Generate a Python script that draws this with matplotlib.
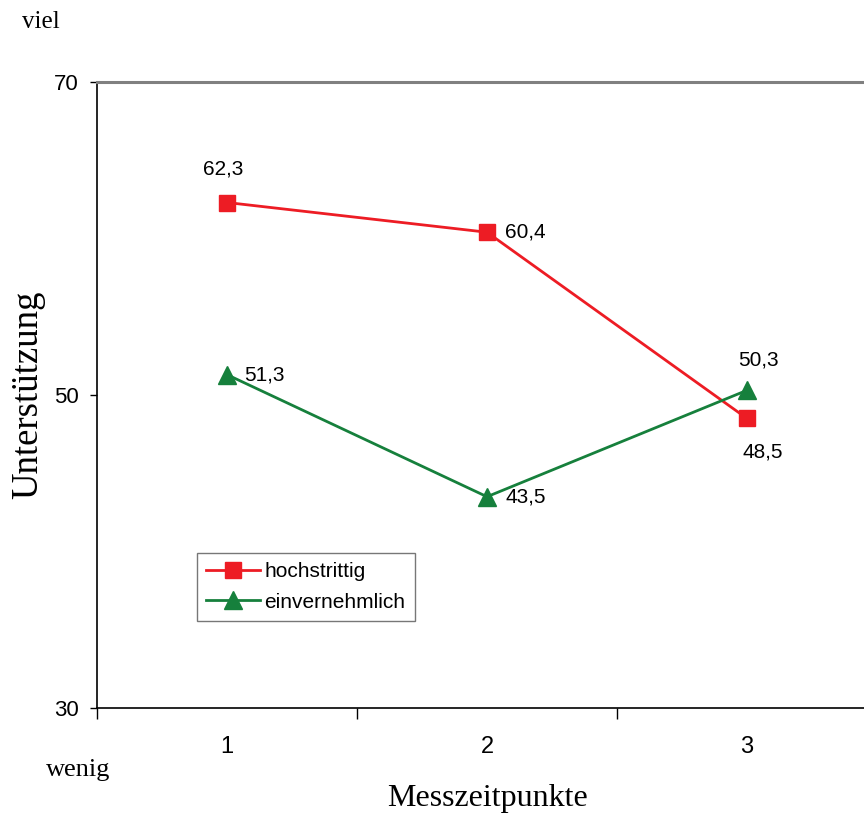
import numpy as np
import matplotlib
matplotlib.use('Agg')
import matplotlib.pyplot as plt
from matplotlib.ticker import FixedLocator

zeitpunkte = [1, 2, 3]
labels = ['1', '2', '3']
hochstrittig = [62.3, 60.4, 48.5]
einvernehmlich = [51.3, 43.5, 50.3]

red = '#ED1C24'
green = '#16803C'
sans = 'Liberation Sans'
serif = 'Liberation Serif'

fig = plt.figure(figsize=(8.64, 8.13), dpi=100)
W, H = 864., 813.
# axes from x=97 to 877 (runs past the right edge), y=82..708
ax = fig.add_axes([97/W, (H-708)/H, 780/W, 626/H])

ax.plot(zeitpunkte, hochstrittig, color=red, lw=2, marker='s', ms=11,
        mec=red, mfc=red, label='hochstrittig', clip_on=False)
ax.plot(zeitpunkte, einvernehmlich, color=green, lw=2, marker='^', ms=13,
        mec=green, mfc=green, label='einvernehmlich', clip_on=False)

ax.set_xlim(0.5, 3.5)
ax.set_ylim(30, 70)

# data labels (offsets in pixels)
offs_h = [(-4, 34, 'center'), (18, 0, 'left'), (16, -34, 'center')]
offs_e = [(17, 0, 'left'), (18, 0, 'left'), (11, 30, 'center')]
for x, y, (dx, dy, ha) in zip(zeitpunkte, hochstrittig, offs_h):
    ax.annotate(f'{y:.1f}'.replace('.', ','), (x, y), xytext=(dx, dy),
                textcoords='offset pixels', ha=ha, va='center',
                fontsize=15, family=sans)
for x, y, (dx, dy, ha) in zip(zeitpunkte, einvernehmlich, offs_e):
    ax.annotate(f'{y:.1f}'.replace('.', ','), (x, y), xytext=(dx, dy),
                textcoords='offset pixels', ha=ha, va='center',
                fontsize=15, family=sans)

# ticks
ax.set_yticks([30, 50, 70])
ax.set_yticklabels(['30', '50', '70'], fontsize=16, family=sans)
ax.tick_params(axis='y', direction='out', length=5, width=1, pad=8)
ax.xaxis.set_major_locator(FixedLocator([0.5, 1.5, 2.5, 3.5]))
ax.xaxis.set_minor_locator(FixedLocator(zeitpunkte))
ax.set_xticklabels([])
ax.set_xticklabels(labels, minor=True, fontsize=17, family=sans)
ax.tick_params(axis='x', which='major', direction='out', length=8, width=1)
ax.tick_params(axis='x', which='minor', length=0, pad=20)

for s in ['left', 'bottom']:
    ax.spines[s].set_color('black')
    ax.spines[s].set_linewidth(1.2)
ax.spines['top'].set_color('#808080')
ax.spines['top'].set_linewidth(2.2)
ax.spines['right'].set_visible(False)

leg = ax.legend(loc='lower left', bbox_to_anchor=(0.128, 0.139),
                prop={'family': sans, 'size': 15}, fancybox=False,
                frameon=True, edgecolor='#555555', borderpad=0.45,
                handlelength=2.6, handletextpad=0.2, labelspacing=0.55,
                borderaxespad=0)
leg.get_frame().set_linewidth(1)

fig.text(22/W, 1-22/H, 'viel', family=serif, fontsize=18, ha='left', va='center')
fig.text(46/W, 1-770/H, 'wenig', family=serif, fontsize=19, ha='left', va='center')
fig.text(487/W, 1-798/H, 'Messzeitpunkte', family=serif, fontsize=23,
         ha='center', va='center')
fig.text(28/W, 1-395/H, 'Unterstützung', family=serif, fontsize=26.5,
         ha='center', va='center', rotation=90)

fig.savefig('out.png', dpi=100)
